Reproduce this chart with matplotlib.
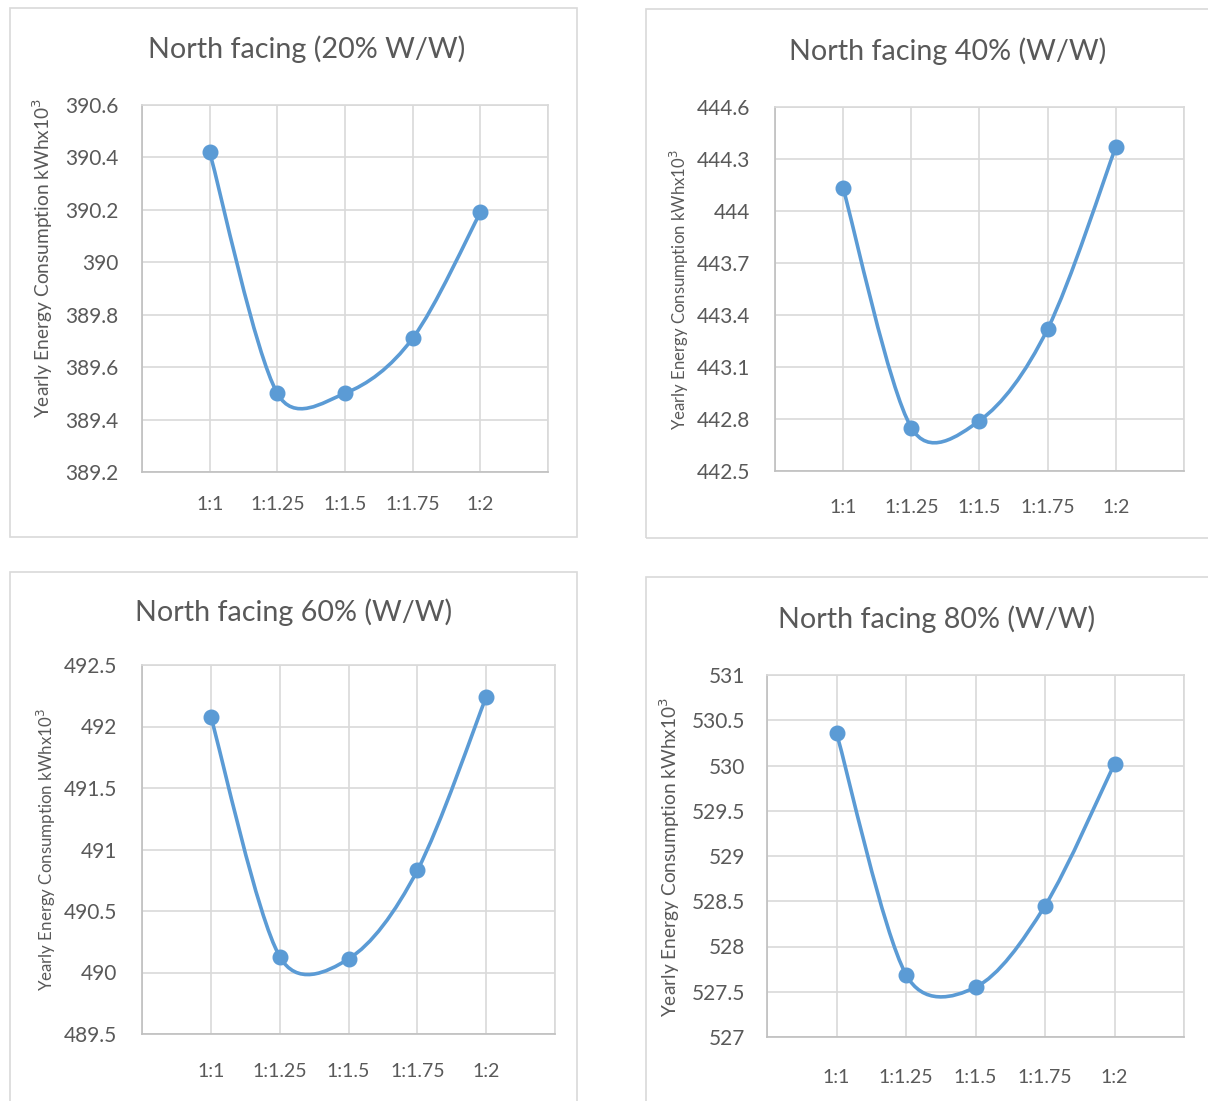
import matplotlib.pyplot as plt
from matplotlib.path import Path
from matplotlib.patches import PathPatch, Rectangle
import numpy as np

plt.rcParams["font.family"] = ["Lato", "DejaVu Sans"]

W, H = 1208, 1101

ratios = ["1:1", "1:1.25", "1:1.5", "1:1.75", "1:2"]

energy_20 = [390.42, 389.50, 389.50, 389.71, 390.19]
energy_40 = [444.13, 442.75, 442.79, 443.32, 444.37]
energy_60 = [492.08, 490.13, 490.11, 490.83, 492.24]
energy_80 = [530.36, 527.69, 527.55, 528.45, 530.02]

ticks_20 = [389.2, 389.4, 389.6, 389.8, 390.0, 390.2, 390.4, 390.6]
ticks_40 = [442.5, 442.8, 443.1, 443.4, 443.7, 444.0, 444.3, 444.6]
ticks_60 = [489.5, 490.0, 490.5, 491.0, 491.5, 492.0, 492.5]
ticks_80 = [527.0, 527.5, 528.0, 528.5, 529.0, 529.5, 530.0, 530.5, 531.0]

titles = ["North facing (20% W/W)", "North facing 40% (W/W)",
          "North facing 60% (W/W)", "North facing 80% (W/W)"]
ylabel = "Yearly Energy Consumption kWhx10$^3$"

BLUE = "#5B9BD5"
GRID = "#D9D9D9"
TEXT = "#595959"


def fmt(v):
    s = f"{v:.1f}"
    return s[:-2] if s.endswith(".0") else s


def smooth_path(x, y, sx, sy):
    # Smoothed line as cubic Bezier segments. Tangent = (next - prev) * 1/6,
    # clamped so a control arm is never longer than half its segment
    # (lengths measured on screen; sx, sy = pixels per data unit).
    pts = np.column_stack([x, y]).astype(float)
    ext = np.vstack([pts[0], pts, pts[-1]])
    scale = np.array([sx, sy])
    dist = lambda a, b: np.hypot(*((b - a) * scale))
    verts = [pts[0]]
    codes = [Path.MOVETO]
    for i in range(len(pts) - 1):
        p0, p1, p2, p3 = ext[i], ext[i + 1], ext[i + 2], ext[i + 3]
        d12 = dist(p1, p2)
        f1 = min(1 / 6, 0.5 * d12 / dist(p0, p2))
        f2 = min(1 / 6, 0.5 * d12 / dist(p1, p3))
        c1 = p1 + (p2 - p0) * f1
        c2 = p2 - (p3 - p1) * f2
        verts += [c1, c2, p2]
        codes += [Path.CURVE4] * 3
    return Path(verts, codes)


def px_axes(fig, left, top, right, bottom):
    return fig.add_axes([left / W, 1 - bottom / H, (right - left) / W, (bottom - top) / H])


def frame(fig, left, top, right, bottom):
    fig.patches.append(Rectangle((left / W, 1 - bottom / H), (right - left) / W, (bottom - top) / H,
                                 transform=fig.transFigure, fill=False, edgecolor=GRID, lw=1.2))


def panel(fig, box, axbox, title, title_pos, ylab_pos, ylab_size, ypad, xpad, values, ticks):
    frame(fig, *box)
    ax = px_axes(fig, *axbox)
    n = len(values)
    x = np.arange(1, n + 1)
    sx = (axbox[2] - axbox[0]) / (n + 1)
    sy = (axbox[3] - axbox[1]) / (ticks[-1] - ticks[0])
    ax.add_patch(PathPatch(smooth_path(x, values, sx, sy), fill=False, edgecolor=BLUE, lw=2.6,
                           capstyle="round", zorder=3))
    ax.plot(x, values, "o", color=BLUE, ms=10.5, zorder=4)
    ax.set_xlim(0, n + 1)
    ax.set_ylim(ticks[0], ticks[-1])
    ax.set_yticks(ticks)
    ax.set_yticklabels([fmt(t) for t in ticks])
    ax.set_xticks(x)
    ax.set_xticklabels(ratios)
    ax.set_xticks(np.arange(0, n + 2), minor=True)
    ax.grid(True, which="minor", axis="x", color=GRID, lw=1.2)
    ax.grid(True, which="major", axis="y", color=GRID, lw=1.2)
    ax.grid(True, which="major", axis="x", color=GRID, lw=1.2)
    ax.tick_params(axis="x", which="both", length=0, pad=xpad, labelsize=14, colors=TEXT)
    ax.tick_params(axis="y", length=0, pad=ypad, labelsize=15, colors=TEXT)
    for s in ax.spines.values():
        s.set_color(GRID)
        s.set_linewidth(1.2)
    ax.spines["left"].set_color("#BFBFBF")
    ax.spines["bottom"].set_color("#BFBFBF")
    ax.set_axisbelow(True)
    fig.text(title_pos[0] / W, 1 - title_pos[1] / H, title, ha="center", va="center",
             fontsize=20.7, color=TEXT)
    fig.text(ylab_pos[0] / W, 1 - ylab_pos[1] / H, ylabel, ha="center", va="center",
             rotation=90, fontsize=ylab_size, color=TEXT)


fig = plt.figure(figsize=(W / 100, H / 100), dpi=100)
fig.patch.set_facecolor("white")

panel(fig, (10, 8, 577, 537), (142, 105, 548, 472), titles[0], (307, 49), (43, 258), 13.8, 17, 17,
      energy_20, ticks_20)
panel(fig, (646, 9, 1215, 538), (775, 107, 1184, 471), titles[1], (948, 51), (679, 290), 12.1, 18, 20,
      energy_40, ticks_40)
panel(fig, (10, 572, 577, 1110), (142, 665, 555, 1034), titles[2], (294, 612), (46, 850), 12.2, 18, 21,
      energy_60, ticks_60)
panel(fig, (646, 577, 1215, 1110), (767, 675, 1184, 1037), titles[3], (937, 619), (670, 857), 13.8, 15.5, 23,
      energy_80, ticks_80)

fig.savefig("out.png", dpi=100)
